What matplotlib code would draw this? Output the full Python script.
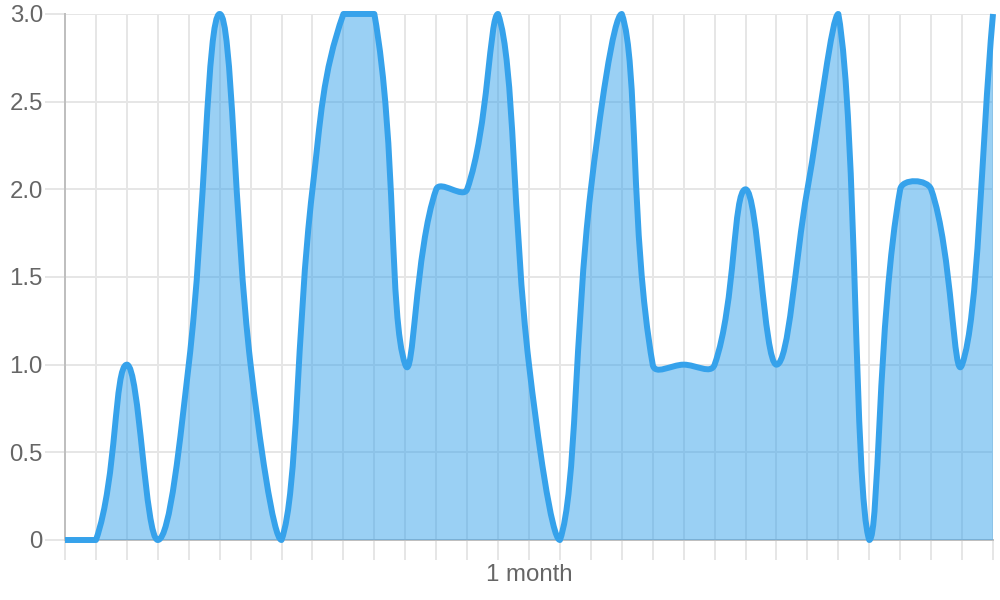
import numpy as np
import matplotlib
matplotlib.use("Agg")
import matplotlib.pyplot as plt
from matplotlib.path import Path
from matplotlib.patches import PathPatch

# data: one value per day, month label in the middle
values = [0, 0, 1, 0, 1, 3, 1, 0, 2, 3, 3, 1, 2, 2, 3, 1, 0, 2, 3, 1, 1, 1, 2, 1, 2, 3, 0, 2, 2, 1, 3]
x_labels = [""] * 15 + ["1 month"] + [""] * 15
y_ticks = [0, 0.5, 1.0, 1.5, 2.0, 2.5, 3.0]
y_tick_labels = ["0", "0.5", "1.0", "1.5", "2.0", "2.5", "3.0"]

line_color = (54 / 255, 162 / 255, 235 / 255)
grid_color = "#e6e6e6"
zero_color = "#bfbfbf"
text_color = "#666666"

plt.rcParams['font.family'] = ['Liberation Sans', 'DejaVu Sans']

fig = plt.figure(figsize=(10, 6), dpi=100)
ax = fig.add_axes([0.065, 0.10, 0.928, 0.8767])

n = len(values)
xmax, ymax = n - 1, 3.0
# chart area in pixels, used for the spline like Chart.js does it
W = fig.get_figwidth() * fig.dpi * 0.928
H = fig.get_figheight() * fig.dpi * 0.8767
sx, sy = W / xmax, H / ymax

px = np.arange(n) * sx
py = np.array(values, dtype=float) * sy


# Chart.js style bezier control points (tension 0.4)
def spline(prev, cur, nxt, t=0.4):
    d01 = np.hypot(*(cur - prev))
    d12 = np.hypot(*(nxt - cur))
    tot = d01 + d12
    s01 = d01 / tot if tot else 0
    s12 = d12 / tot if tot else 0
    cp_prev = cur - t * s01 * (nxt - prev)
    cp_next = cur + t * s12 * (nxt - prev)
    return cp_prev, cp_next


pts = np.column_stack([px, py])
cps = []
for i in range(n):
    prev = pts[i - 1] if i > 0 else pts[i]
    nxt = pts[i + 1] if i < n - 1 else pts[i]
    cp_prev, cp_next = spline(prev, pts[i], nxt)
    # cap control points inside the chart area
    cp_prev = np.clip(cp_prev, [0, 0], [W, H])
    cp_next = np.clip(cp_next, [0, 0], [W, H])
    cps.append((cp_prev, cp_next))

scale = np.array([sx, sy])
verts = [pts[0] / scale]
codes = [Path.MOVETO]
for i in range(n - 1):
    verts += [cps[i][1] / scale, cps[i + 1][0] / scale, pts[i + 1] / scale]
    codes += [Path.CURVE4] * 3

line_path = Path(verts, codes)
fill_path = Path(verts + [(xmax, 0), (0, 0), verts[0]],
                 codes + [Path.LINETO, Path.LINETO, Path.CLOSEPOLY])

ax.add_patch(PathPatch(fill_path, facecolor=line_color, alpha=0.5, edgecolor="none", zorder=2))
ax.add_patch(PathPatch(line_path, facecolor="none", edgecolor=line_color, lw=4.3,
                       zorder=3, clip_on=False, capstyle="butt", joinstyle="round"))

ax.set_xlim(0, xmax)
ax.set_ylim(0, ymax)
ax.set_xticks(range(n))
ax.set_xticklabels(x_labels)
ax.set_yticks(y_ticks)
ax.set_yticklabels(y_tick_labels)

ax.grid(True, color=grid_color, lw=1.44, zorder=0)
ax.set_axisbelow(True)
for s in ["top", "right"]:
    ax.spines[s].set_visible(False)
for s in ["left", "bottom"]:
    ax.spines[s].set_color(zero_color)
    ax.spines[s].set_linewidth(1.44)
    ax.spines[s].set_zorder(1)

ax.tick_params(axis="both", length=14.4, width=1.44, color=grid_color,
               labelcolor=text_color, labelsize=17.3)
ax.tick_params(axis="y", pad=1.5)
ax.tick_params(axis="x", pad=3)
ax.xaxis.get_major_ticks()[0].tick1line.set_color(zero_color)
ax.yaxis.get_major_ticks()[0].tick1line.set_color(zero_color)

fig.savefig("out.png", dpi=100)
